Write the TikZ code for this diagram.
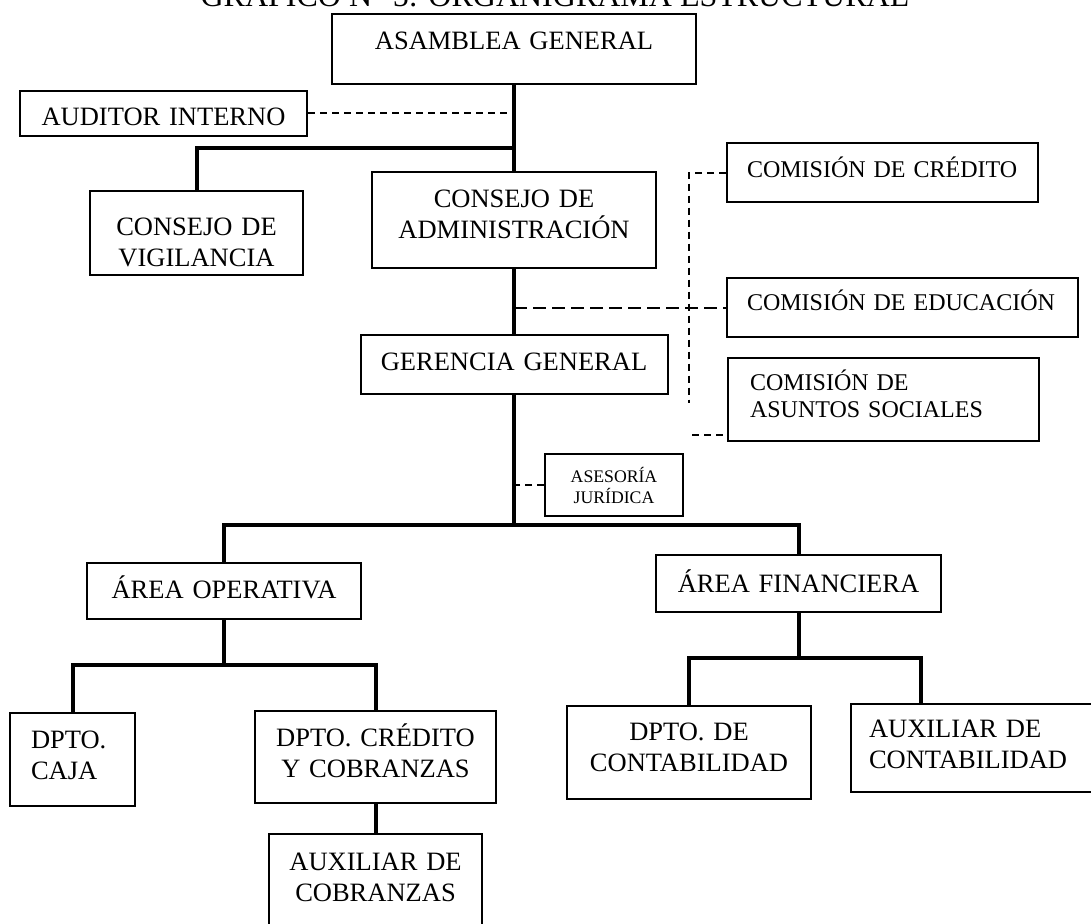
\documentclass[tikz,border=0pt]{standalone}
\usepackage{fontspec}
\setmainfont{Liberation Serif}
\usetikzlibrary{positioning}
\tikzset{
  every picture/.style={line width=2pt},
  box/.style={draw, inner sep=0pt, anchor=base, align=center, font=\fontsize{26.5}{31}\selectfont},
  com/.style={box, align=left, font=\fontsize{24}{27.5}\selectfont},
  orgline/.style={line width=4pt},
  link/.style={dash pattern=on 7pt off 5pt},
  title/.style={anchor=base, font=\fontsize{32}{36}\selectfont},
}

\begin{document}
\begin{tikzpicture}[x=1pt, y=-1pt]
  \useasboundingbox (0,0) rectangle (1091,923);
  \clip (0,0) rectangle (1091,923);
  \node[title] (titulo) at (555,7) {GRÁFICO N° 5: ORGANIGRAMA ESTRUCTURAL};
  % direccion
  \node[box, text width=364pt, text height=36pt, text depth=34pt] (asamblea) at (514,50) {ASAMBLEA GENERAL};
  \node[box, text width=287pt, text height=34.5pt, text depth=10.5pt] (auditor) at (163.5,125.5) {AUDITOR INTERNO};
  \node[box, text width=213pt, text height=44pt, text depth=40pt] (vigilancia) at (196.5,235) {CONSEJO DE\\VIGILANCIA};
  \node[box, text width=284pt, text height=35pt, text depth=61pt] (admin) at (514,207) {CONSEJO DE\\ADMINISTRACIÓN};
  \node[box, text width=307pt, text height=35pt, text depth=24pt] (gerencia) at (514,370) {GERENCIA GENERAL};
  % comisiones
  \node[com, inner xsep=20pt, text width=271pt, text height=34pt, text depth=25pt] (credito) at (882.5,177) {COMISIÓN DE CRÉDITO};
  \node[com, inner xsep=20pt, text width=311pt, text height=32pt, text depth=27pt] (educacion) at (902.5,310) {COMISIÓN DE EDUCACIÓN};
  \node[com, inner xsep=22pt, text width=267pt, text height=32pt, text depth=51pt] (sociales) at (883.5,390) {COMISIÓN DE\\ASUNTOS SOCIALES};
  \node[box, text width=138pt, text height=28pt, text depth=34pt, font=\fontsize{17.7}{21}\selectfont] (asesoria) at (614,482) {ASESORÍA\\JURÍDICA};
  % areas
  \node[box, text width=274pt, text height=35pt, text depth=21pt] (operativa) at (224,598) {ÁREA OPERATIVA};
  \node[box, text width=285pt, text height=37pt, text depth=20pt] (financiera) at (798.5,592) {ÁREA FINANCIERA};
  \node[box, align=left, inner xsep=21pt, text width=83pt, text height=35pt, text depth=58pt] (caja) at (72.5,748) {DPTO.\\CAJA};
  \node[box, text width=241pt, text height=35pt, text depth=57pt] (dptocred) at (375.5,746) {DPTO. CRÉDITO\\Y COBRANZAS};
  \node[box, text width=213pt, text height=36pt, text depth=56pt] (auxcob) at (375.5,870) {AUXILIAR DE\\COBRANZAS};
  \node[box, text width=244pt, text height=34pt, text depth=59pt] (contab) at (689,740) {DPTO. DE\\CONTABILIDAD};
  \node[box, align=left, inner xsep=18pt, text width=233pt, text height=33pt, text depth=55pt] (auxcont) at (985.5,737) {AUXILIAR DE\\CONTABILIDAD};
  % uniones
  \coordinate (jv) at (514,148);
  \coordinate (jd) at (514,525);
  \coordinate (jo) at (224,665);
  \coordinate (jf) at (798.5,658);
  \coordinate (ac) at (921,704);
  \coordinate (ce) at (689,403);
  \coordinate (se) at (692,435);
  % lineas de mando
  \foreach \a/\b in {asamblea/admin, admin/gerencia, dptocred/auxcob}
    \draw[orgline] (\a.south) -- (\b.north);
  \draw[orgline] (jv) -| (vigilancia.north);
  \draw[orgline] (gerencia.south) -- (jd);
  \draw[orgline] (operativa.north) |- (jd) -| (financiera.north);
  \draw[orgline] (operativa.south) -- (jo);
  \draw[orgline] (caja.north) |- (jo) -| (dptocred.north);
  \draw[orgline] (financiera.south) -- (jf);
  \draw[orgline] (contab.north) |- (jf) -| (ac);
  % asesoria y comisiones
  \draw[link] (auditor.east) -- (auditor.east -| asamblea.south);
  \draw[link] (credito.west) -| (ce);
  \draw[link, dash pattern=on 13pt off 6pt] (educacion.west -| admin.south) -- (educacion.west);
  \draw[link] (se) -- (se -| sociales.west);
  \draw[link] (asesoria.west) -- (asesoria.west -| jd);
\end{tikzpicture}
\end{document}
